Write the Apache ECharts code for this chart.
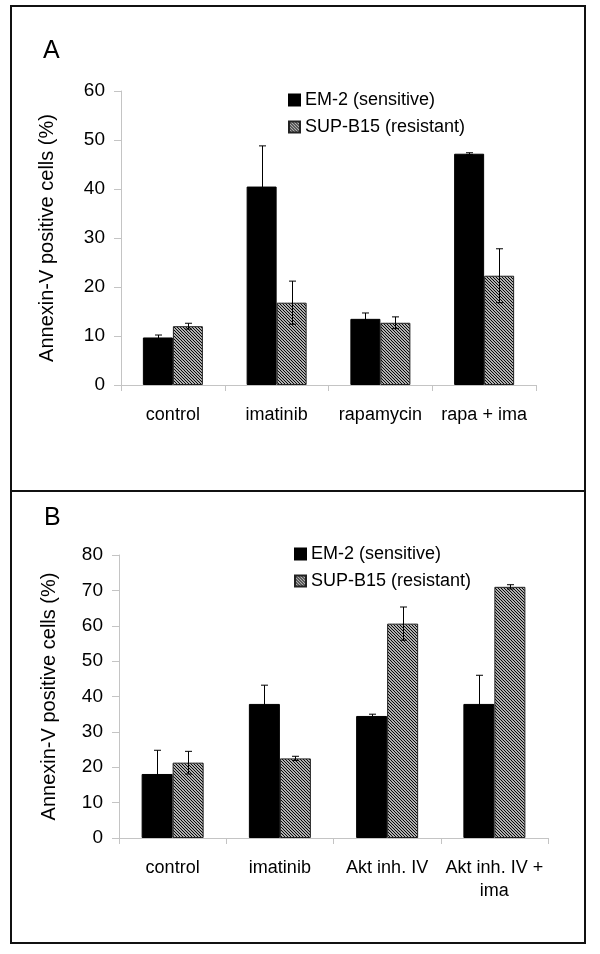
<!DOCTYPE html>
<html>
<head>
<meta charset="utf-8">
<script src="https://cdn.jsdelivr.net/npm/echarts@6/dist/echarts.min.js"></script>
<style>
html,body{margin:0;padding:0;background:#fff;}
#chart{width:600px;height:954px;}
</style>
</head>
<body>
<div id="chart"></div>
<script>
// ---- Data ----
const categoriesA = ['control', 'imatinib', 'rapamycin', 'rapa + ima'];
const em2A = [9.7, 40.5, 13.5, 47.2];
const em2AErr = [0.5, 8.3, 1.2, 0.2];
const supA = [12.0, 16.8, 12.7, 22.3];
const supAErr = [0.6, 4.4, 1.2, 5.5];

const categoriesB = ['control', 'imatinib', 'Akt inh. IV', 'Akt inh. IV +\nima'];
const em2B = [18.1, 37.9, 34.5, 37.9];
const em2BErr = [6.7, 5.3, 0.5, 8.1];
const supB = [21.3, 22.5, 60.6, 71.0];
const supBErr = [3.2, 0.6, 4.7, 0.6];

const seriesNames = ['EM-2 (sensitive)', 'SUP-B15 (resistant)'];
const yTitle = 'Annexin-V positive cells (%)';

// ---- Styles ----
const FONT = 'Liberation Sans, Arial, sans-serif';
function hatch() {
  const c = document.createElement('canvas');
  const s = 3;
  c.width = s; c.height = s;
  const g = c.getContext('2d');
  g.fillStyle = '#ffffff';
  g.fillRect(0, 0, s, s);
  g.strokeStyle = '#000000';
  g.lineWidth = 1.2;
  g.beginPath();
  g.moveTo(-1, -1); g.lineTo(s + 1, s + 1);
  g.moveTo(-1, s - 1); g.lineTo(1, s + 1);
  g.moveTo(s - 1, -1); g.lineTo(s + 1, 1);
  g.stroke();
  return { image: c, repeat: 'repeat' };
}
const hatchFill = hatch();

const BW_A = 30, BW_B = 31;

function errData(vals, errs, side) {
  return vals.map((v, i) => [i, v, errs[i], side]);
}
function errSeries(data, xi, halfW) {
  return {
    type: 'custom',
    xAxisIndex: xi, yAxisIndex: xi,
    z: 10,
    silent: true,
    data: data,
    renderItem: function (params, api) {
      const c = api.value(0), v = api.value(1), e = api.value(2), side = api.value(3);
      const p = api.coord([c, v]);
      const hi = api.coord([c, v + e]);
      const lo = api.coord([c, v - e]);
      const x = Math.round(p[0] + side * halfW) + 0.5;
      const cap = 3.5;
      const st = { stroke: '#000', lineWidth: 1 };
      return {
        type: 'group',
        children: [
          { type: 'line', shape: { x1: x, y1: hi[1], x2: x, y2: lo[1] }, style: st },
          { type: 'line', shape: { x1: x - cap, y1: hi[1], x2: x + cap, y2: hi[1] }, style: st },
          { type: 'line', shape: { x1: x - cap, y1: lo[1], x2: x + cap, y2: lo[1] }, style: st }
        ]
      };
    }
  };
}

const axisGray = '#c4c4c4';
function xAx(cats, gi) {
  return {
    type: 'category', gridIndex: gi, data: cats,
    axisLine: { lineStyle: { color: axisGray } },
    axisTick: { show: true, length: 6, lineStyle: { color: axisGray } },
    axisLabel: { color: '#000', fontSize: 18, fontFamily: FONT, margin: 19, lineHeight: 23, interval: 0 }
  };
}
function yAx(max, gi, gap) {
  return {
    type: 'value', gridIndex: gi, min: 0, max: max, interval: 10,
    name: yTitle, nameLocation: 'middle', nameGap: gap, nameRotate: 90,
    nameTextStyle: { color: '#000', fontSize: 20, fontFamily: FONT },
    axisLine: { show: true, lineStyle: { color: axisGray } },
    axisTick: { show: true, length: 7, lineStyle: { color: axisGray } },
    splitLine: { show: false },
    axisLabel: { color: '#000', fontSize: 19, fontFamily: FONT, margin: 16 }
  };
}
function leg(left, top) {
  return {
    data: seriesNames, orient: 'vertical', left: left, top: top, padding: 0,
    itemWidth: 11, itemHeight: 11, itemGap: 9, icon: 'rect',
    textStyle: { color: '#000', fontSize: 18, fontFamily: FONT, lineHeight: 18 },
    selectedMode: false
  };
}

const chart = echarts.init(document.getElementById('chart'), null, { renderer: 'canvas' });
chart.setOption({
  backgroundColor: '#ffffff',
  animation: false,
  grid: [
    { left: 121, right: 64, top: 91, bottom: 569 },
    { left: 119, right: 52, top: 555, bottom: 116 }
  ],
  legend: [leg(288, 91), leg(294, 545)],
  xAxis: [xAx(categoriesA, 0), xAx(categoriesB, 1)],
  yAxis: [yAx(60, 0, 64), yAx(80, 1, 60)],
  series: [
    { name: seriesNames[0], type: 'bar', xAxisIndex: 0, yAxisIndex: 0, data: em2A, barWidth: BW_A, barGap: '0%',
      itemStyle: { color: '#000', borderColor: '#000', borderWidth: 1 } },
    { name: seriesNames[1], type: 'bar', xAxisIndex: 0, yAxisIndex: 0, data: supA, barWidth: BW_A, barGap: '0%',
      itemStyle: { color: hatchFill, borderColor: '#222', borderWidth: 1 } },
    errSeries(errData(em2A, em2AErr, -1), 0, BW_A / 2),
    errSeries(errData(supA, supAErr, 1), 0, BW_A / 2),
    { name: seriesNames[0], type: 'bar', xAxisIndex: 1, yAxisIndex: 1, data: em2B, barWidth: BW_B, barGap: '0%',
      itemStyle: { color: '#000', borderColor: '#000', borderWidth: 1 } },
    { name: seriesNames[1], type: 'bar', xAxisIndex: 1, yAxisIndex: 1, data: supB, barWidth: BW_B, barGap: '0%',
      itemStyle: { color: hatchFill, borderColor: '#222', borderWidth: 1 } },
    errSeries(errData(em2B, em2BErr, -1), 1, BW_B / 2),
    errSeries(errData(supB, supBErr, 1), 1, BW_B / 2)
  ],
  graphic: [
    { type: 'rect', shape: { x: 11, y: 6, width: 574, height: 937 }, style: { fill: 'none', stroke: '#111', lineWidth: 2 }, silent: true },
    { type: 'line', shape: { x1: 11, y1: 491, x2: 585, y2: 491 }, style: { stroke: '#111', lineWidth: 2 }, silent: true },
    { type: 'text', left: 43, top: 39, style: { text: 'A', fontSize: 25, fontFamily: FONT, fill: '#000' } },
    { type: 'text', left: 44, top: 506, style: { text: 'B', fontSize: 25, fontFamily: FONT, fill: '#000' } }
  ]
});
</script>
</body>
</html>
